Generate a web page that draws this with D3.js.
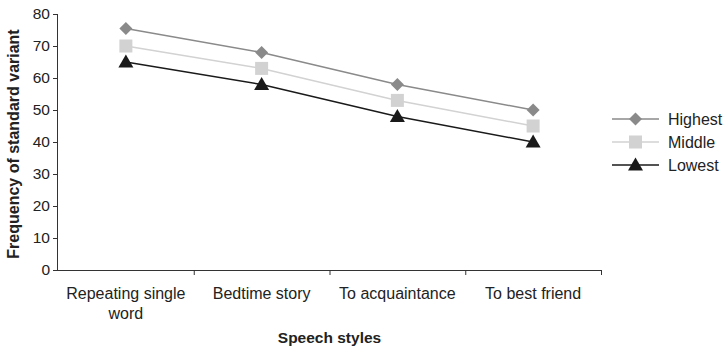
<!DOCTYPE html>
<html><head><meta charset="utf-8">
<script src="https://cdn.jsdelivr.net/npm/d3@7"></script>
<style>
body{margin:0;background:#fff;}
text{font-family:"Liberation Sans",Arial,Helvetica,sans-serif;}
</style></head>
<body><svg id="c" width="725" height="350"></svg>
<script>
const categories = ["Repeating single word","Bedtime story","To acquaintance","To best friend"];
const categoryLines = [["Repeating single","word"],["Bedtime story"],["To acquaintance"],["To best friend"]];
const seriesNames = ["Highest","Middle","Lowest"];
const highest = [75.5, 68, 58, 50];
const middle = [70, 63, 53, 45];
const lowest = [65, 58, 48, 40];
const yTicks = [0,10,20,30,40,50,60,70,80];

const series = [
  {name:seriesNames[0], values:highest, color:"#8a8a8a", shape:"diamond"},
  {name:seriesNames[1], values:middle, color:"#d2d2d2", shape:"square"},
  {name:seriesNames[2], values:lowest, color:"#1a1a1a", shape:"triangle"}
];

const svg = d3.select("#c");
const m = {left:58, top:14, right:124, bottom:80};
const W = 725, H = 350;
const x = d3.scaleBand().domain(categories).range([m.left, W - m.right]).padding(0);
const y = d3.scaleLinear().domain([0,80]).range([H - m.bottom, m.top]);
const axisColor = "#333";

// y axis
const ya = svg.append("g").attr("transform",`translate(${m.left},0)`)
  .call(d3.axisLeft(y).tickValues(yTicks).tickSize(5).tickPadding(3));
ya.select(".domain").attr("stroke",axisColor).attr("d",`M-0.5,${y(0)}V${y(80)}`);
ya.selectAll(".tick line").attr("stroke",axisColor);
ya.selectAll(".tick text").attr("font-size",15.5).attr("fill","#222")
  .attr("font-family","Liberation Sans, Arial, sans-serif");

// x axis
const xa = svg.append("g").attr("transform",`translate(0,${y(0)})`);
xa.append("line").attr("x1",m.left).attr("x2",W-m.right).attr("y1",0.5).attr("y2",0.5).attr("stroke",axisColor);
categories.forEach((c,i)=>{
  const bx = x(c) + x.bandwidth();
  xa.append("line").attr("x1",bx+0.5).attr("x2",bx+0.5).attr("y1",0).attr("y2",5).attr("stroke",axisColor);
  const t = xa.append("text").attr("text-anchor","middle").attr("font-size",16).attr("fill","#222");
  categoryLines[i].forEach((ln,j)=>{
    t.append("tspan").attr("x", x(c)+x.bandwidth()/2).attr("y", 29 + j*20).text(ln);
  });
});

// axis titles
svg.append("text").attr("transform",`translate(19,${(y(0)+y(80))/2 + 2}) rotate(-90)`)
  .attr("text-anchor","middle").attr("font-size",16).attr("font-weight","bold").attr("fill","#222")
  .text("Frequency of standard variant");
svg.append("text").attr("x",(m.left + W - m.right)/2).attr("y",343)
  .attr("text-anchor","middle").attr("font-size",15.5).attr("font-weight","bold").attr("fill","#222")
  .text("Speech styles");

function marker(g, shape, color, cx, cy){
  if(shape==="diamond"){
    g.append("path").attr("d",`M${cx},${cy-6.5}L${cx+6.5},${cy}L${cx},${cy+6.5}L${cx-6.5},${cy}Z`).attr("fill",color);
  } else if(shape==="square"){
    g.append("rect").attr("x",cx-6.5).attr("y",cy-6.5).attr("width",13).attr("height",13).attr("fill",color);
  } else {
    g.append("path").attr("d",`M${cx},${cy-7.5}L${cx+7.5},${cy+5.5}L${cx-7.5},${cy+5.5}Z`).attr("fill",color);
  }
}

const cx = c => x(c) + x.bandwidth()/2;
const line = d3.line().x((d,i)=>cx(categories[i])).y(d=>y(d));
series.forEach(s=>{
  const g = svg.append("g");
  g.append("path").datum(s.values).attr("d",line).attr("fill","none").attr("stroke",s.color).attr("stroke-width",1.5);
  s.values.forEach((v,i)=>marker(g, s.shape, s.color, cx(categories[i]), y(v)));
});

// legend
const lg = svg.append("g").attr("transform","translate(612,119)");
series.forEach((s,i)=>{
  const yy = i*23;
  lg.append("line").attr("x1",0).attr("x2",47).attr("y1",yy).attr("y2",yy).attr("stroke",s.color).attr("stroke-width",1.5);
  marker(lg, s.shape, s.color, 23.5, yy);
  lg.append("text").attr("x",56).attr("y",yy+6).attr("font-size",16).attr("fill","#222").text(s.name);
});
</script></body></html>
